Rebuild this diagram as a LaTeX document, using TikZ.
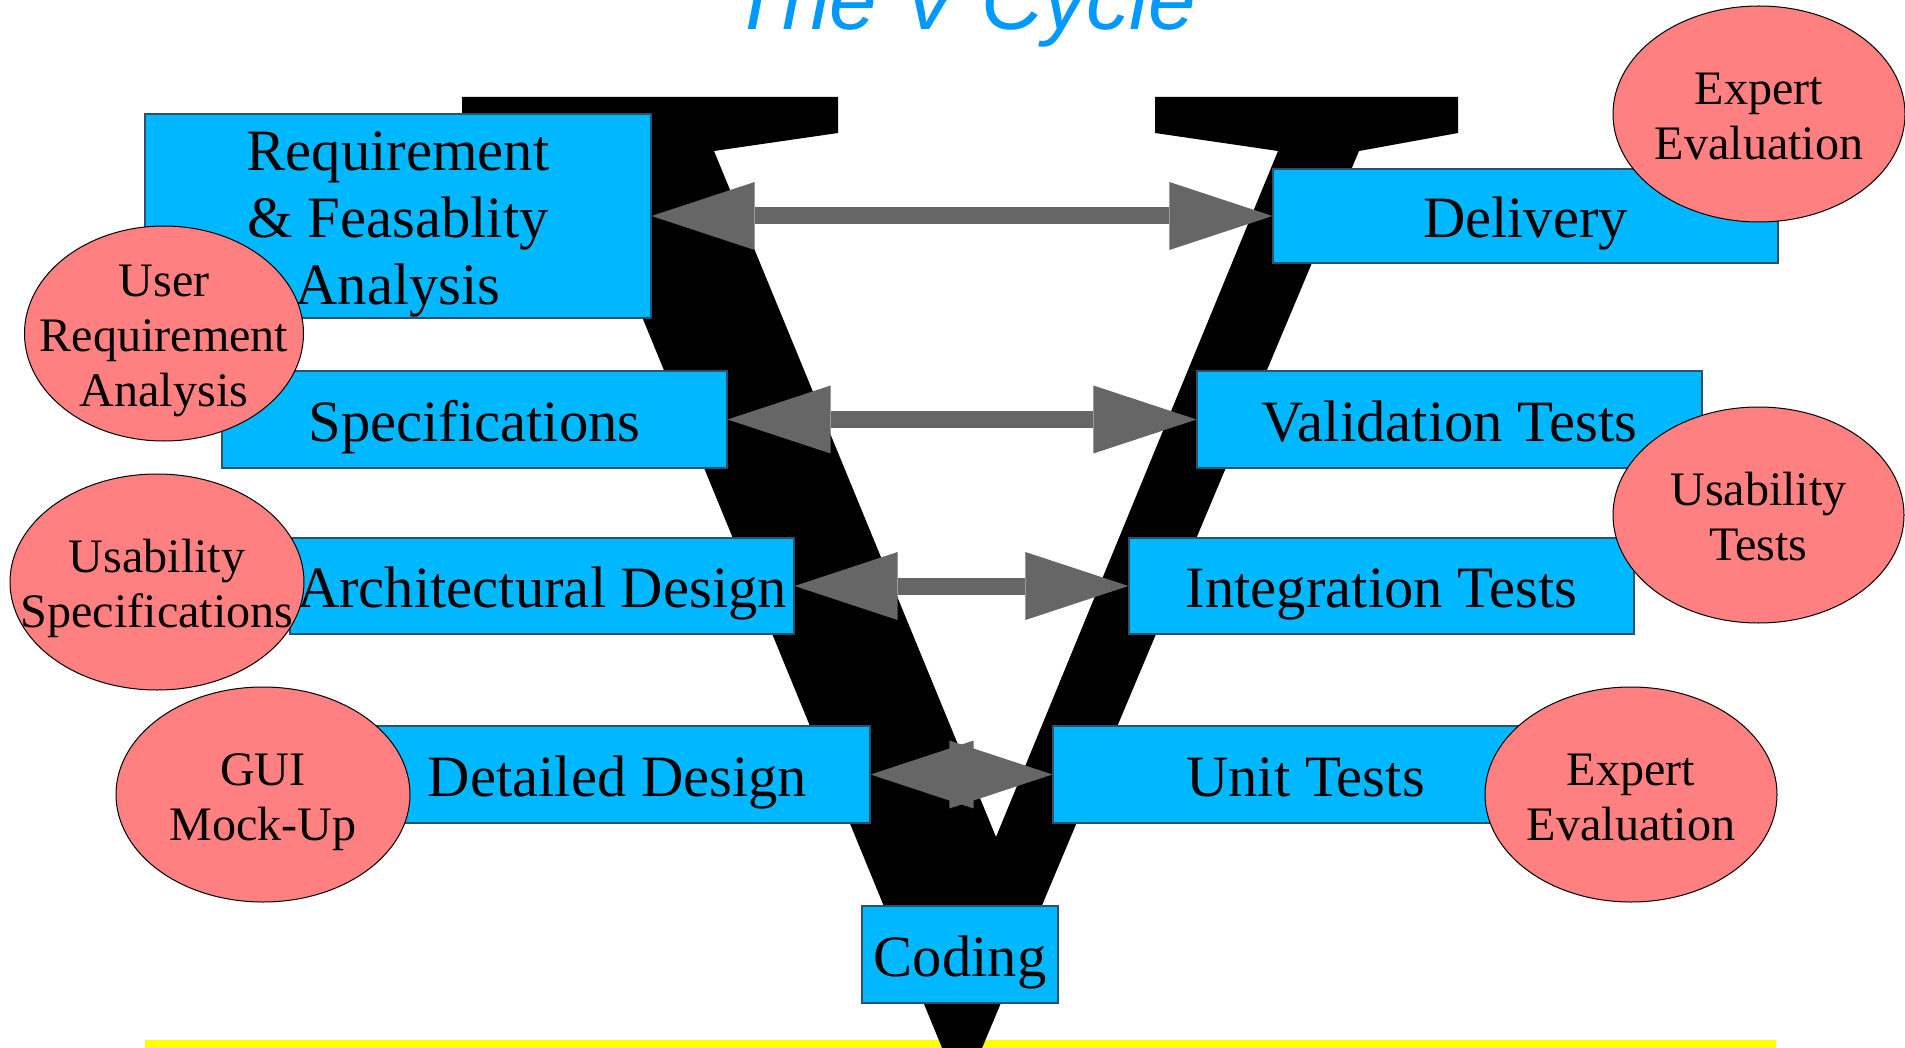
\documentclass[tikz,border=0pt]{standalone}
\usepackage{fontspec}
\setmainfont{Liberation Serif}
\newfontfamily\titlefont{Liberation Sans}
\usetikzlibrary{arrows.meta,shapes.geometric}
\definecolor{boxblue}{HTML}{00B8FF}
\definecolor{ellred}{HTML}{FF8080}
\definecolor{arrgray}{HTML}{666666}
\definecolor{titleblue}{HTML}{0099FF}
\definecolor{boxline}{HTML}{2F4F6F}
\definecolor{vyellow}{HTML}{FFFF00}
\newcommand\lnstrut{\rule[-0.22em]{0pt}{1.08em}}
\newcommand\firststrut{\rule[-0.22em]{0pt}{1.19em}}
\begin{document}
\begin{tikzpicture}[x=1pt,y=-1pt,
  stage/.style={draw=boxline, line width=1.2pt, fill=boxblue, rectangle, inner sep=0pt, align=center, font=\fontsize{58.6}{67}\selectfont},
  ell/.style={draw=black, line width=1pt, fill=ellred, ellipse, inner sep=0pt},
  elltext/.style={align=center, inner sep=0pt, font=\fontsize{48.1}{55}\selectfont},
  varrow/.style={color=arrgray, line width=17pt, {Triangle[length=103pt,width=68pt,line width=0pt]}-{Triangle[length=103pt,width=68pt,line width=0pt]}},
]
\useasboundingbox (0,0) rectangle (1905,1048);
\fill[white] (0,0) rectangle (1905,1048);
% yellow base line
\fill[vyellow] (145,1040) rectangle (1776,1050);
% the big V
\fill[black] (462,97) -- (838,97) -- (838,133) -- (714,151) -- (996,837) -- (1278,151)
  -- (1155,133) -- (1155,97) -- (1458,97) -- (1458,133) -- (1359,151) -- (977,1060)
  -- (947,1060) -- (574,151) -- (462,133) -- cycle;
% stage boxes
\node[stage, minimum width=506pt, minimum height=204pt] (req) at (398,216)
  {\firststrut Requirement\\\lnstrut \& Feasablity\\\lnstrut Analysis};
\node[stage, minimum width=505pt, minimum height=97pt] (spec) at (474.5,419.5) {\firststrut Specifications};
\node[stage, minimum width=504pt, minimum height=96pt] (arch) at (542,586) {\firststrut Architectural Design};
\node[stage, minimum width=505pt, minimum height=97pt] (det) at (617.5,774.5) {\firststrut Detailed Design};
\node[stage, minimum width=196pt, minimum height=97pt] (cod) at (960,954.5) {\firststrut Coding};
\node[stage, minimum width=505pt, minimum height=94pt] (del) at (1525.5,216) {\firststrut Delivery};
\node[stage, minimum width=505pt, minimum height=97pt] (val) at (1449.5,419.5) {\firststrut Validation Tests};
\node[stage, minimum width=505pt, minimum height=96pt] (integ) at (1381.5,586) {\firststrut Integration Tests};
\node[stage, minimum width=505pt, minimum height=97pt] (unit) at (1305.5,774.5) {\firststrut Unit Tests};
% arrows
\draw[varrow] (req.east) -- (del.west);
\draw[varrow] (spec.east) -- (val.west);
\draw[varrow] (arch.east) -- (integ.west);
\draw[varrow] (det.east) -- (unit.west);
% ellipses
\node[ell, minimum width=279pt, minimum height=215pt] (ur) at (164,333.5) {};
\node[elltext] (urt) at (ur) {\firststrut User\\\lnstrut Requirement\\\lnstrut Analysis};
\node[ell, minimum width=294pt, minimum height=216pt] (us) at (157,582) {};
\node[elltext] (ust) at (us) {\firststrut Usability\\\lnstrut Specifications};
\node[ell, minimum width=294pt, minimum height=215pt] (gui) at (263,794.5) {};
\node[elltext] (guit) at (gui) {\firststrut GUI\\\lnstrut Mock-Up};
\node[ell, minimum width=292pt, minimum height=216pt] (ee1) at (1759,114) {};
\node[elltext] (ee1t) at (ee1) {\firststrut Expert\\\lnstrut Evaluation};
\node[ell, minimum width=291pt, minimum height=216pt] (ut) at (1758.5,515) {};
\node[elltext] (utt) at (ut) {\firststrut Usability\\\lnstrut Tests};
\node[ell, minimum width=292pt, minimum height=215pt] (ee2) at (1631,794.5) {};
\node[elltext] (ee2t) at (ee2) {\firststrut Expert\\\lnstrut Evaluation};
% title
\node[anchor=base, inner sep=0pt, text=titleblue, font=\titlefont\itshape\fontsize{85.5}{95}\selectfont] (title) at (963,30) {The V Cycle};
\end{tikzpicture}
\end{document}
